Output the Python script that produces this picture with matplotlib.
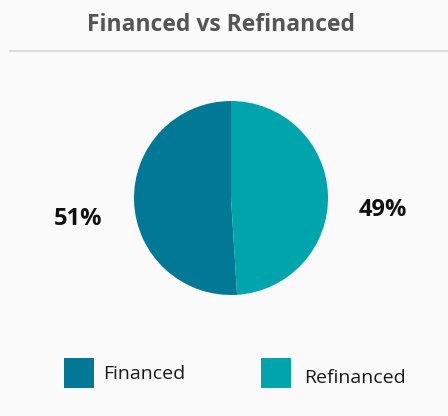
import matplotlib.pyplot as plt
from matplotlib.patches import Rectangle
from matplotlib.lines import Line2D

# Daten
labels = ['Financed', 'Refinanced']
values = [51, 49]
colors = ['#017896', '#00A4AD']
pct_labels = ['51%', '49%']

plt.rcParams['font.family'] = ['Open Sans', 'DejaVu Sans']

W, H = 448, 416
fig = plt.figure(figsize=(W / 100, H / 100), dpi=100)
fig.patch.set_facecolor('#FAFAFA')

def fx(x):
    return x / W

def fy(y):
    return 1 - y / H

# Titel
fig.text(fx(221), fy(25), 'Financed vs Refinanced', ha='center', va='center',
         fontsize=16.5, fontweight='bold', color='#555555')
fig.add_artist(Line2D([fx(10), fx(448)], [fy(51), fy(51)], color='#DDDDDD', lw=1.5))

# Kreisdiagramm
cx, cy, r = 231, 198, 97
ax = fig.add_axes([fx(cx - r), fy(cy + r), 2 * r / W, 2 * r / H])
ax.pie(values, colors=colors, startangle=90, counterclock=True, radius=1,
       wedgeprops=dict(linewidth=0))
ax.set_xlim(-1, 1)
ax.set_ylim(-1, 1)
ax.set_aspect('equal')
ax.axis('off')

# Prozentwerte
fig.text(fx(78), fy(219), pct_labels[0], ha='center', va='center',
         fontsize=17, fontweight='bold', color='#111111')
fig.text(fx(383), fy(210), pct_labels[1], ha='center', va='center',
         fontsize=17, fontweight='bold', color='#111111')

# Legende
leg_x = [64, 261]
txt_x = [103, 304]
txt_base = [379, 383]
for i in range(2):
    fig.add_artist(Rectangle((fx(leg_x[i]), fy(388)), 30 / W, 30 / H,
                             facecolor=colors[i], edgecolor='none',
                             transform=fig.transFigure))
    fig.text(fx(txt_x[i]), fy(txt_base[i]), labels[i], ha='left', va='baseline',
             fontsize=14, color='#1A1A1A')

fig.savefig('out.png', dpi=100, facecolor=fig.get_facecolor())
